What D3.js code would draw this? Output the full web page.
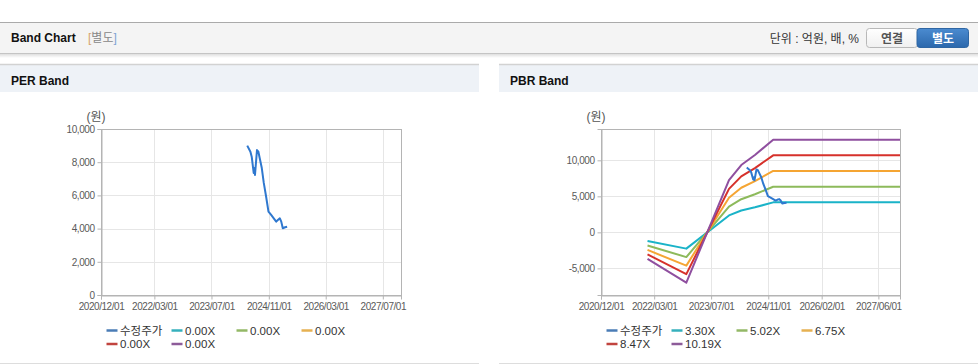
<!DOCTYPE html>
<html>
<head>
<meta charset="utf-8">
<script src="https://cdn.jsdelivr.net/npm/d3@7"></script>
<style>
  body { margin: 0; background: #fff; }
  svg text { font-family: "Liberation Sans", Arial, "Noto Sans CJK KR", sans-serif; }
</style>
</head>
<body>
<div id="chart"></div>
<script>
// adjusted share price (수정주가), shared by both charts
const priceDates = ["2024-05-01", "2024-05-28", "2024-06-08", "2024-06-25", "2024-07-03", "2024-07-06",
    "2024-07-23", "2024-08-04", "2024-08-15", "2024-09-02", "2024-09-19", "2024-10-09", "2024-10-29",
    "2024-11-21", "2024-12-13", "2025-01-03", "2025-01-17", "2025-02-03", "2025-02-15", "2025-02-28",
    "2025-03-20", "2025-04-06"];
const priceValues = [9000, 8630, 8330, 7350, 7650, 7230, 8730, 8630, 8250, 7650, 6750, 5920, 5020,
    4820, 4620, 4420, 4520, 4620, 4420, 4020, 4080, 4110];

// PBR band lines
const bandDates = ["2022-01-03", "2022-12-01", "2023-12-01", "2024-03-15", "2024-07-10", "2024-12-13", "2027-12-03"];
const pbrBand1 = [-1195, -2261, 2350, 3026, 3478, 4165, 4165];
const pbrBand2 = [-1817, -3439, 3574, 4603, 5291, 6335, 6335];
const pbrBand3 = [-2444, -4624, 4806, 6190, 7115, 8519, 8519];
const pbrBand4 = [-3066, -5802, 6031, 7767, 8927, 10689, 10689];
const pbrBand5 = [-3689, -6980, 7255, 9344, 10740, 12860, 12860];

const perLabels = ["수정주가", "0.00X", "0.00X", "0.00X", "0.00X", "0.00X"];
const pbrLabels = ["수정주가", "3.30X", "5.02X", "6.75X", "8.47X", "10.19X"];

const perTicksY = [0, 2000, 4000, 6000, 8000, 10000];
const pbrTicksY = [-5000, 0, 5000, 10000];
const perTicksX = ["2020-12-01", "2022-03-01", "2023-07-01", "2024-11-01", "2026-03-01", "2027-07-01"];
const pbrTicksX = ["2020-12-01", "2022-03-01", "2023-07-01", "2024-11-01", "2026-02-01", "2027-06-01"];
const xDomain = ["2020-12-01", "2027-12-03"];

const lineColors = ["#2f78cf", "#1ab3c8", "#8dba5b", "#f5a533", "#d6312b", "#8f4f9f"];
const swatchColors = ["#4a7cb6", "#36b0bc", "#93b866", "#e6b152", "#c1443f", "#8d5b99"];

const parse = d3.timeParse("%Y-%m-%d");
const tickFmt = d3.timeFormat("%Y/%m/%d");
const numFmt = d => d3.format(",")(d).replace("\u2212", "-");

const W = 978, H = 364;
const svg = d3.select("#chart").append("svg")
    .attr("width", W)
    .attr("height", H);

const defs = svg.append("defs");
const shadow = defs.append("linearGradient").attr("id", "shadow").attr("x1", 0).attr("y1", 0).attr("x2", 0).attr("y2", 1);
shadow.append("stop").attr("offset", 0).attr("stop-color", "#000").attr("stop-opacity", 0.16);
shadow.append("stop").attr("offset", 1).attr("stop-color", "#000").attr("stop-opacity", 0);
const btnOff = defs.append("linearGradient").attr("id", "btnOff").attr("x1", 0).attr("y1", 0).attr("x2", 0).attr("y2", 1);
btnOff.append("stop").attr("offset", 0).attr("stop-color", "#ffffff");
btnOff.append("stop").attr("offset", 1).attr("stop-color", "#f0f0f0");
const btnOn = defs.append("linearGradient").attr("id", "btnOn").attr("x1", 0).attr("y1", 0).attr("x2", 0).attr("y2", 1);
btnOn.append("stop").attr("offset", 0).attr("stop-color", "#4b8bd0");
btnOn.append("stop").attr("offset", 1).attr("stop-color", "#2c68ac");

// header bar
svg.append("rect").attr("x", 0).attr("y", 53).attr("width", W).attr("height", 5).attr("fill", "url(#shadow)");
svg.append("rect").attr("x", 0).attr("y", 22).attr("width", W).attr("height", 31).attr("fill", "#f4f4f4");
svg.append("line").attr("x1", 0).attr("x2", W).attr("y1", 22.5).attr("y2", 22.5).attr("stroke", "#aaa");
svg.append("line").attr("x1", 0).attr("x2", W).attr("y1", 53.5).attr("y2", 53.5).attr("stroke", "#c4c4c4");

svg.append("text")
    .attr("x", 11).attr("y", 42)
    .style("font-size", "12px").style("font-weight", "bold").attr("fill", "#111")
    .text("Band Chart");
const tag = svg.append("text").attr("x", 88).attr("y", 42).style("font-size", "12px");
tag.append("tspan").attr("fill", "#d6a36c").text("[");
tag.append("tspan").attr("fill", "#888").text("별도");
tag.append("tspan").attr("fill", "#7fa3d3").text("]");

svg.append("text")
    .attr("x", 859).attr("y", 43).attr("text-anchor", "end")
    .style("font-size", "12px").attr("fill", "#333")
    .text("단위 : 억원, 배, %");

svg.append("rect").attr("x", 866.5).attr("y", 28.5).attr("width", 51).attr("height", 19).attr("rx", 3)
    .attr("fill", "url(#btnOff)").attr("stroke", "#b8b8b8");
svg.append("text").attr("x", 892).attr("y", 42.5).attr("text-anchor", "middle")
    .style("font-size", "12px").style("font-weight", "bold").attr("fill", "#555").text("연결");
svg.append("rect").attr("x", 917).attr("y", 28.5).attr("width", 51.5).attr("height", 19).attr("rx", 3)
    .attr("fill", "url(#btnOn)").attr("stroke", "#2f66a3");
svg.append("text").attr("x", 943).attr("y", 42.5).attr("text-anchor", "middle")
    .style("font-size", "12px").style("font-weight", "bold").attr("fill", "#fff").text("별도");

function drawPanel(opt) {
    const g = svg.append("g");
    const px = opt.panelX, pw = 479;

    // title strip
    g.append("rect").attr("x", px).attr("y", 64).attr("width", pw).attr("height", 28).attr("fill", "#eef2f7");
    g.append("line").attr("x1", px).attr("x2", px + pw).attr("y1", 64.5).attr("y2", 64.5).attr("stroke", "#d2d2d2").attr("stroke-width", 1.5);
    g.append("line").attr("x1", px).attr("x2", px + pw).attr("y1", 363.5).attr("y2", 363.5).attr("stroke", "#ddd");
    g.append("text")
        .attr("x", px + 11).attr("y", 85)
        .style("font-size", "12px").style("font-weight", "bold").attr("fill", "#111")
        .text(opt.title);

    const left = opt.plotX, top = 129, width = opt.plotW, height = 166;

    const x = d3.scaleTime()
        .domain(xDomain.map(parse))
        .range([left, left + width]);
    const y = d3.scaleLinear()
        .domain(opt.yDomain)
        .range([top + height, top]);

    // gridlines
    g.selectAll(".vgrid")
        .data(opt.ticksX.map(parse))
        .join("line")
        .attr("x1", d => Math.round(x(d)) + 0.5).attr("x2", d => Math.round(x(d)) + 0.5)
        .attr("y1", top).attr("y2", top + height)
        .attr("stroke", "#e6e6e6");
    g.selectAll(".hgrid")
        .data(opt.ticksY)
        .join("line")
        .attr("x1", left).attr("x2", left + width)
        .attr("y1", d => Math.round(y(d)) + 0.5).attr("y2", d => Math.round(y(d)) + 0.5)
        .attr("stroke", "#e6e6e6");

    // frame
    g.append("rect")
        .attr("x", left + 0.5).attr("y", top + 0.5)
        .attr("width", width).attr("height", height)
        .attr("fill", "none").attr("stroke", "#b4b4b4");

    // axes
    const yAxis = g.append("g")
        .attr("transform", `translate(${left + 0.5},0)`)
        .call(d3.axisLeft(y).tickValues(opt.ticksY).tickFormat(numFmt).tickSize(4).tickPadding(3));
    const xAxis = g.append("g")
        .attr("transform", `translate(0,${top + height + 0.5})`)
        .call(d3.axisBottom(x).tickValues(opt.ticksX.map(parse)).tickFormat(tickFmt).tickSize(4).tickPadding(3));
    [yAxis, xAxis].forEach(a => {
        a.select(".domain").attr("stroke", "#b4b4b4");
        a.selectAll(".tick line").attr("stroke", "#b4b4b4");
        a.selectAll(".tick text")
            .attr("fill", "#5a5a5a")
            .style("font-size", "10px")
            .style("letter-spacing", "-0.45px")
            .style("font-family", "\"Liberation Sans\", Arial, sans-serif");
    });

    g.append("text")
        .attr("x", left - 5).attr("y", 121)
        .attr("text-anchor", "middle")
        .style("font-size", "12px").attr("fill", "#555")
        .text("(원)");

    // band lines then price
    const line = d3.line().x(d => x(d.date)).y(d => y(d.value));
    opt.bands.forEach((vals, i) => {
        const pts = bandDates.map((d, j) => ({ date: parse(d), value: vals[j] }));
        g.append("path")
            .datum(pts)
            .attr("fill", "none")
            .attr("stroke", lineColors[i + 1])
            .attr("stroke-width", 2)
            .attr("stroke-linejoin", "round")
            .attr("d", line);
    });
    const price = priceDates.map((d, j) => ({ date: parse(d), value: priceValues[j] }));
    g.append("path")
        .datum(price)
        .attr("fill", "none")
        .attr("stroke", lineColors[0])
        .attr("stroke-width", 2)
        .attr("stroke-linejoin", "round")
        .attr("d", line);

    // legend
    const lg = g.append("g").attr("transform", `translate(${left + 5.5},0)`);
    opt.labels.forEach((lab, i) => {
        const lx = (i % 4) * 65;
        const ly = i < 4 ? 330.5 : 344;
        lg.append("line")
            .attr("x1", lx).attr("x2", lx + 11)
            .attr("y1", ly).attr("y2", ly)
            .attr("stroke", swatchColors[i]).attr("stroke-width", 2.5);
        lg.append("text")
            .attr("x", lx + 13.5).attr("y", ly + 4.2)
            .style("font-size", "11.5px").attr("fill", "#333")
            .text(lab);
    });
}

drawPanel({
    panelX: 0, title: "PER Band", plotX: 101, plotW: 300,
    yDomain: [0, 10000], ticksY: perTicksY, ticksX: perTicksX,
    bands: [], labels: perLabels
});

drawPanel({
    panelX: 499, title: "PBR Band", plotX: 601, plotW: 299,
    yDomain: [-8700, 14350], ticksY: pbrTicksY, ticksX: pbrTicksX,
    bands: [pbrBand1, pbrBand2, pbrBand3, pbrBand4, pbrBand5], labels: pbrLabels
});
</script>
</body>
</html>
